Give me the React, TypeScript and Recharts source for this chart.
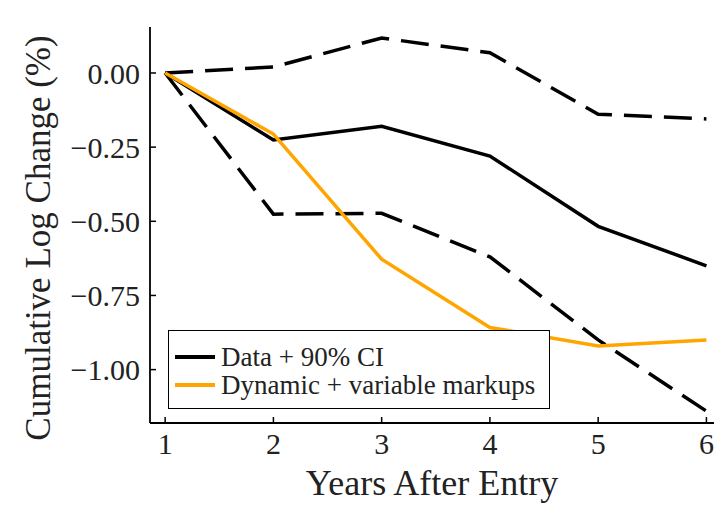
import React from 'react';
import { LineChart, Line, XAxis, YAxis } from 'recharts';

const years = [1, 2, 3, 4, 5, 6];
const dataMean = [0, -0.226, -0.18, -0.28, -0.517, -0.65];
const ciUpper = [0, 0.02, 0.118, 0.068, -0.139, -0.155];
const ciLower = [0, -0.476, -0.473, -0.62, -0.9, -1.14];
const modelDynamic = [0, -0.206, -0.628, -0.858, -0.92, -0.9];
const yTicks = [0, -0.25, -0.5, -0.75, -1.0];

const chartData = years.map((year, i) => ({
  year,
  mean: dataMean[i],
  upper: ciUpper[i],
  lower: ciLower[i],
  dynamic: modelDynamic[i],
}));

const FONT = '"Liberation Serif", "DejaVu Serif", serif';

const fmtY = (v: number) => (v < 0 ? '\u2212' + Math.abs(v).toFixed(2) : v.toFixed(2));

function LegendBox() {
  const row = (color: string, text: string) => (
    <div style={{ display: 'flex', alignItems: 'center', height: 28 }}>
      <div style={{ width: 40, height: 3.5, background: color, marginRight: 6 }} />
      <span>{text}</span>
    </div>
  );
  return (
    <div
      style={{
        position: 'absolute',
        left: 168,
        top: 330,
        width: 382,
        height: 79,
        border: '1.5px solid #000',
        background: '#fff',
        padding: '12px 6px 10px 6px',
        fontFamily: FONT,
        fontSize: 27,
        color: '#222',
        lineHeight: 1,
        boxSizing: 'border-box',
      }}
    >
      {row('#000', 'Data + 90% CI')}
      {row('#FFA500', 'Dynamic + variable markups')}
    </div>
  );
}

export default function App() {
  return (
    <div style={{ position: 'absolute', left: 0, top: 0, width: 714, height: 506, background: '#fff' }}>
      <LineChart width={714} height={506} data={chartData} margin={{ top: 27, right: 0, bottom: 0, left: 0 }}>
        <XAxis
          dataKey="year"
          type="number"
          domain={[0.86, 6.07]}
          ticks={years}
          tickSize={-6}
          tickMargin={16}
          height={83}
          axisLine={{ stroke: '#000', strokeWidth: 1.8 }}
          tickLine={{ stroke: '#000', strokeWidth: 1.5 }}
          tick={{ fontFamily: FONT, fontSize: 30, fill: '#222' }}
          label={{
            value: 'Years After Entry',
            position: 'insideBottom',
            offset: 11,
            style: { fontFamily: FONT, fontSize: 36, fill: '#222' },
          }}
        />
        <XAxis
          xAxisId="top"
          dataKey="year"
          type="number"
          domain={[0.86, 6.07]}
          orientation="top"
          height={0}
          tick={false}
          tickLine={false}
          axisLine={{ stroke: '#000', strokeWidth: 1.8 }}
        />
        <YAxis
          type="number"
          domain={[-1.18, 0.155]}
          ticks={yTicks}
          width={150}
          tickSize={-6}
          tickMargin={16}
          tickFormatter={fmtY}
          axisLine={{ stroke: '#000', strokeWidth: 1.8 }}
          tickLine={{ stroke: '#000', strokeWidth: 1.5 }}
          tick={{ fontFamily: FONT, fontSize: 30, fill: '#222' }}
          label={{
            content: (props: any) => {
              const vb = props.viewBox || { x: 0, y: 0, height: 0 };
              const cx = 38;
              const cy = vb.y + vb.height / 2 + 13;
              return (
                <text
                  x={cx}
                  y={cy}
                  transform={`rotate(-90 ${cx} ${cy})`}
                  textAnchor="middle"
                  dominantBaseline="central"
                  style={{ fontFamily: FONT, fontSize: 35, fill: '#222' }}
                >
                  Cumulative Log Change (%)
                </text>
              );
            },
          }}
        />
        <Line
          type="linear"
          dataKey="upper"
          stroke="#000"
          strokeWidth={3.5}
          strokeDasharray="28 12"
          dot={false}
          isAnimationActive={false}
        />
        <Line
          type="linear"
          dataKey="lower"
          stroke="#000"
          strokeWidth={3.5}
          strokeDasharray="28 12"
          dot={false}
          isAnimationActive={false}
        />
        <Line
          type="linear"
          dataKey="mean"
          stroke="#000"
          strokeWidth={3.5}
          dot={false}
          isAnimationActive={false}
        />
        <Line
          type="linear"
          dataKey="dynamic"
          stroke="#FFA500"
          strokeWidth={3.5}
          dot={false}
          isAnimationActive={false}
        />
      </LineChart>
      <LegendBox />
    </div>
  );
}
